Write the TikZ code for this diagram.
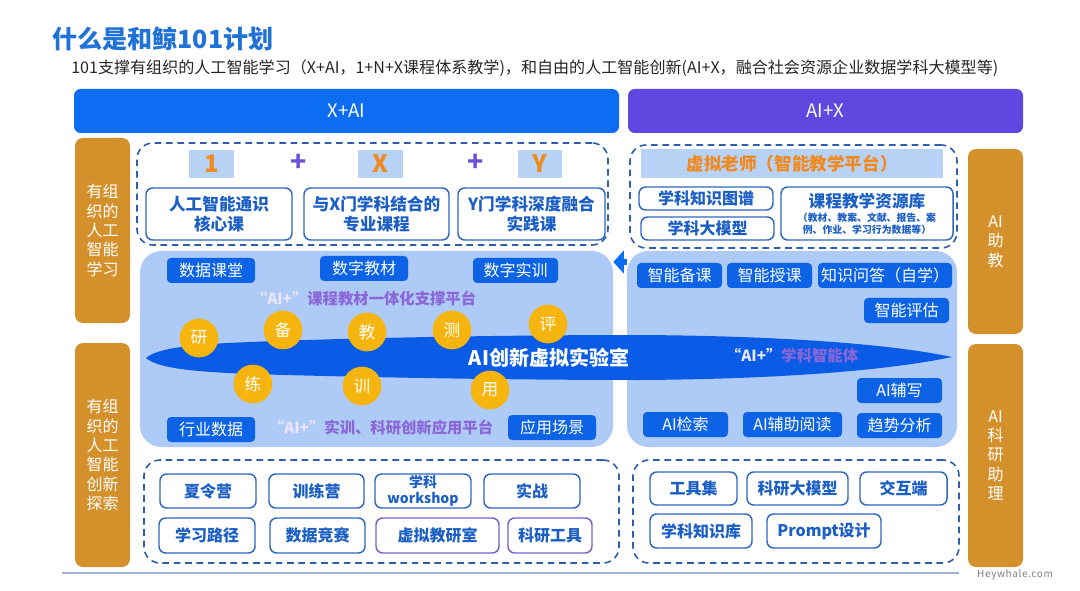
\documentclass[tikz,border=0pt]{standalone}
\usepackage{fontspec}
\setmainfont{Noto Sans CJK SC}
\usetikzlibrary{arrows.meta}
\definecolor{barblue}{HTML}{0C6CF2}
\definecolor{barpur}{HTML}{5F48E0}
\definecolor{sideor}{HTML}{D4902B}
\definecolor{dashc}{HTML}{2D5FAE}
\definecolor{boxc}{HTML}{2D68C0}
\definecolor{boxtxt}{HTML}{1C5FC4}
\definecolor{pbord}{HTML}{7B5FC8}
\definecolor{panelc}{HTML}{AECAF6}
\definecolor{darkb}{HTML}{0D63E6}
\definecolor{ellc}{HTML}{0A5CE6}
\definecolor{yel}{HTML}{F6B40E}
\definecolor{numbgc}{HTML}{B7D2F5}
\definecolor{numor}{HTML}{F08A1E}
\definecolor{plusc}{HTML}{6B4FD8}
\definecolor{ptxtc}{HTML}{8A66D8}
\definecolor{lav}{HTML}{ECE6FF}
\definecolor{titleb}{HTML}{1F72D6}
\definecolor{linec}{HTML}{9FB5D6}
\newcommand{\mybox}[7]{\node[#6, minimum width={(#4-(#2))*0.75pt}, minimum height={(#5-(#3))*0.75pt}] (#1) at ({(#2+#4)/2},{(#3+#5)/2}) {#7};}
\begin{document}
\begin{tikzpicture}[x=0.75pt,y=-0.75pt,
  side/.style={fill=sideor, rounded corners=6pt, text=white, align=center, inner sep=0pt, font=\fontsize{12}{14.5}\selectfont},
  bar/.style={rounded corners=5pt, text=white, inner sep=0pt, font=\fontsize{14}{16}\selectfont},
  dbox/.style={draw=dashc, line width=1.2pt, dash pattern=on 5pt off 3.5pt, rounded corners=12pt, inner sep=0pt},
  wbox/.style={draw=boxc, line width=1.1pt, fill=white, rounded corners=5pt, text=boxtxt, align=center, inner sep=0pt, font=\bfseries\fontsize{12}{14}\selectfont},
  pbox/.style={wbox, draw=pbord},
  panel/.style={fill=panelc, rounded corners=16pt, inner sep=0pt},
  dbb/.style={fill=darkb, rounded corners=3pt, text=white, inner sep=0pt, font=\fontsize{12}{14}\selectfont},
  circ/.style={circle, fill=yel, minimum size=29pt, inner sep=0pt, text=white, font=\fontsize{12.5}{14}\selectfont},
  numbg/.style={fill=numbgc, inner sep=0pt, text=numor, font=\bfseries\fontsize{18}{20}\selectfont},
  plus/.style={text=plusc, inner sep=0pt, font=\bfseries\fontsize{20}{22}\selectfont},
  ptxt/.style={text=ptxtc, inner sep=0pt, font=\bfseries\fontsize{11.5}{13}\selectfont},
]
\useasboundingbox[fill=white] (0,0) rectangle (1080,591);
% title
\node[anchor=west, inner sep=0pt, text=titleb, font=\bfseries\fontsize{18.8}{22}\selectfont] (title) at (52,39) {什么是和鲸101计划};
\node[anchor=west, inner sep=0pt, text=black!85, font=\fontsize{12.05}{14}\selectfont] (subtitle) at (71,68) {101支撑有组织的人工智能学习（X+AI，1+N+X课程体系教学)，和自由的人工智能创新(AI+X，融合社会资源企业数据学科大模型等)};
% bars
\mybox{barL}{74}{89}{619}{133}{bar, fill=barblue}{X+AI}
\mybox{barR}{628}{89}{1023}{133}{bar, fill=barpur}{AI+X}
% side boxes
\mybox{sideL1}{75}{138}{130}{323}{side}{有组\\织的\\人工\\智能\\学习}
\mybox{sideL2}{75}{343}{130}{567}{side}{有组\\织的\\人工\\智能\\创新\\探索}
\mybox{sideR1}{968}{149}{1023}{334}{side}{AI\\助\\教}
\mybox{sideR2}{968}{344}{1023}{567}{side}{AI\\科\\研\\助\\理}
% top left dashed
\mybox{dTL}{137}{143}{608}{245}{dbox}{}
\mybox{n1}{189}{150}{234}{178}{numbg}{1}
\node[plus] (p1) at (299,163) {+};
\mybox{nX}{358}{150}{403}{178}{numbg}{X}
\node[plus] (p2) at (476,163) {+};
\mybox{nY}{518}{150}{562}{178}{numbg}{Y}
\mybox{c1}{146}{188}{292}{240}{wbox, font=\bfseries\fontsize{12.5}{14.5}\selectfont}{人工智能通识\\核心课}
\mybox{c2}{304}{188}{449}{240}{wbox, font=\bfseries\fontsize{12.5}{14.5}\selectfont}{与X门学科结合的\\专业课程}
\mybox{c3}{458}{188}{605}{240}{wbox, font=\bfseries\fontsize{12.5}{14.5}\selectfont}{Y门学科深度融合\\实践课}
% top right dashed
\mybox{dTR}{630}{145}{957}{248}{dbox}{}
\mybox{vt}{641}{149}{943}{178}{fill=numbgc, inner sep=0pt, text=numor, font=\bfseries\fontsize{13.2}{15}\selectfont}{虚拟老师（智能教学平台）}
\mybox{kg}{639}{187}{773}{210}{wbox}{学科知识图谱}
\mybox{bm}{641}{217}{774}{240}{wbox}{学科大模型}
\mybox{res}{781}{187}{953}{240}{wbox}{}
\node[inner sep=0pt, text=boxtxt, font=\bfseries\fontsize{12.5}{14}\selectfont] (resT) at (867,201) {课程教学资源库};
\node[inner sep=0pt, text=boxtxt, align=center, font=\bfseries\fontsize{7.4}{9}\selectfont] (resS) at (867,224) {（教材、教案、文献、报告、案\\例、作业、学习行为数据等）};
% panels
\mybox{lpanel}{140}{251}{613}{447}{panel}{}
\mybox{rpanel}{627}{251}{957}{447}{panel}{}
\coordinate (aref) at (0,262);
\draw[barblue, line width=5pt, -{Triangle[length=8pt,width=17pt]}] (rpanel.west |- aref) -- (lpanel.east |- aref);
% left panel items
\mybox{sjkt}{167}{258}{255}{283}{dbb}{数据课堂}
\mybox{szjc}{320}{256}{408}{281}{dbb}{数字教材}
\mybox{szsx}{473}{258}{558}{283}{dbb}{数字实训}
\node[ptxt] (pt1) at (364,299) {\textcolor{lav}{“AI+”}课程教材一体化支撑平台};
\mybox{hysj}{167}{417}{255}{442}{dbb}{行业数据}
\node[ptxt] (pt2) at (381,428) {\textcolor{lav}{“AI+”}实训、科研创新应用平台};
\mybox{yycj}{508}{415}{596}{440}{dbb}{应用场景}
% right panel items
\mybox{znbk}{637}{263}{722}{288}{dbb}{智能备课}
\mybox{znsk}{727}{263}{812}{288}{dbb}{智能授课}
\mybox{zswd}{818}{263}{952}{288}{dbb}{知识问答（自学）}
\mybox{znpg}{864}{298}{949}{323}{dbb}{智能评估}
\mybox{aifx}{857}{378}{942}{403}{dbb}{AI辅写}
\mybox{aijs}{643}{412}{728}{437}{dbb}{AI检索}
\mybox{aiyd}{743}{412}{842}{437}{dbb}{AI辅助阅读}
\mybox{qsfx}{857}{413}{942}{438}{dbb}{趋势分析}
% ellipse
\fill[ellc] (146,358) .. controls (158,347) and (200,344) .. (250,342) .. controls (350,338) and (500,335) .. (640,335) .. controls (800,336) and (900,346) .. (952,357) .. controls (900,368) and (800,379) .. (640,380) .. controls (500,380) and (350,377) .. (250,374) .. controls (200,372) and (158,369) .. (146,358) -- cycle;
\node[inner sep=0pt, text=white, font=\bfseries\fontsize{15}{17}\selectfont] (lab) at (549,358) {AI创新虚拟实验室};
\node[ptxt] (pt3) at (792,356) {\textcolor{lav}{“AI+”}学科智能体};
% circles
\node[circ] (yan) at (199,338) {研};
\node[circ] (bei) at (283,330) {备};
\node[circ] (jiao) at (367,332) {教};
\node[circ] (ce) at (452,330) {测};
\node[circ] (ping) at (548,324) {评};
\node[circ] (lian) at (253,384) {练};
\node[circ] (xun) at (362,386) {训};
\node[circ] (yong) at (490,390) {用};
% bottom left dashed
\mybox{dBL}{144}{460}{619}{563}{dbox}{}
\mybox{xly}{160}{474}{256}{508}{wbox}{夏令营}
\mybox{xly2}{269}{474}{364}{508}{wbox}{训练营}
\mybox{ws}{375}{474}{471}{508}{wbox, font=\bfseries\fontsize{10.5}{11.5}\selectfont}{学科\\workshop}
\mybox{sz}{484}{474}{580}{508}{wbox}{实战}
\mybox{xxlj}{159}{518}{255}{553}{wbox}{学习路径}
\mybox{sjjs}{270}{518}{365}{553}{wbox}{数据竞赛}
\mybox{xnjy}{376}{518}{499}{553}{pbox}{虚拟教研室}
\mybox{kygj}{508}{518}{592}{553}{pbox}{科研工具}
% bottom right dashed
\mybox{dBR}{633}{460}{959}{563}{dbox}{}
\mybox{gjj}{650}{472}{737}{505}{wbox}{工具集}
\mybox{kydm}{747}{472}{848}{505}{wbox}{科研大模型}
\mybox{jhd}{860}{472}{947}{505}{wbox}{交互端}
\mybox{xkzs}{650}{514}{752}{548}{wbox}{学科知识库}
\mybox{prompt}{767}{514}{881}{548}{wbox}{Prompt设计}
% bottom line
\coordinate (lineA) at (62,573);
\coordinate (lineB) at (959,573);
\draw[linec, line width=1.5pt] (lineA) -- (lineB);
\node[inner sep=0pt, text=black!50, font=\fontsize{7.5}{9}\selectfont\addfontfeatures{LetterSpace=6}] (hw) at (1015,575) {Heywhale.com};
\end{tikzpicture}
\end{document}
